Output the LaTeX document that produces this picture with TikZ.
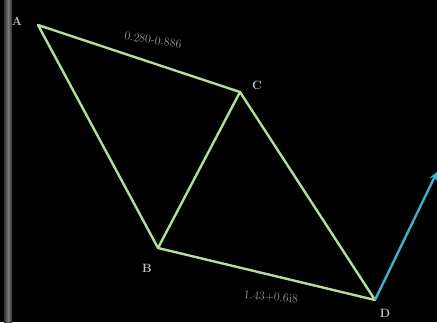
\documentclass[tikz,border=0pt]{standalone}
\usepackage{tikz}
\usetikzlibrary{arrows.meta,positioning,calc,backgrounds}
\definecolor{edgeG}{HTML}{B4DC9C}
\definecolor{vecB}{HTML}{3FB0C8}
\definecolor{labG}{HTML}{C8C8C8}
\definecolor{barG}{HTML}{7A7A7A}
\tikzset{
  every node/.style={font=\small},
  vtx/.style ={circle, inner sep=0pt, minimum size=0pt},
  vlab/.style={font=\large\bfseries, text=labG, inner sep=1pt},
  elab/.style={font=\large, text=labG!75!black, inner sep=1pt},
  edg/.style ={draw=edgeG, line width=2.4pt, line join=round, line cap=round},
  vec/.style ={-{Stealth[length=3mm,width=3mm]}, draw=vecB, line width=2.4pt},
}
\begin{document}
\begin{tikzpicture}[x=1pt,y=-1pt]
\fill[black] (0,0) rectangle (437,322);
\useasboundingbox (0,0) rectangle (437,322);

% ============ left bar ======================================================
\shade[left color=barG!40!black, right color=barG!40!black, middle color=barG]
  (4,0) rectangle (12,322);

% ============ vertices ======================================================
\node[vtx] (A) at (38,25) {};
\node[vtx] (C) at (240,92) {};
\node[vtx] (B) at (158,248) {};
\node[vtx] (D) at (375,300) {};
\coordinate (tip) at (437,172);

\node[vlab] (lA) at (17,21) {A};
\node[vlab] (lC) at (257,85) {C};
\node[vlab] (lB) at (147,268) {B};
\node[vlab] (lD) at (385,313) {D};

% ============ edges =========================================================
\draw[edg] (A.center) -- (C.center) -- (D.center) -- (B.center) -- cycle;
\draw[edg] (B.center) -- (C.center);
\draw[vec] (D.center) -- (tip);

% ============ edge labels ===================================================
\node[elab, rotate=-8] (lAC) at (153,40) {0.280-0.886};
\node[elab, rotate=-5] (lBD) at (271,297) {1.43+0.6i8};

\end{tikzpicture}
\end{document}
